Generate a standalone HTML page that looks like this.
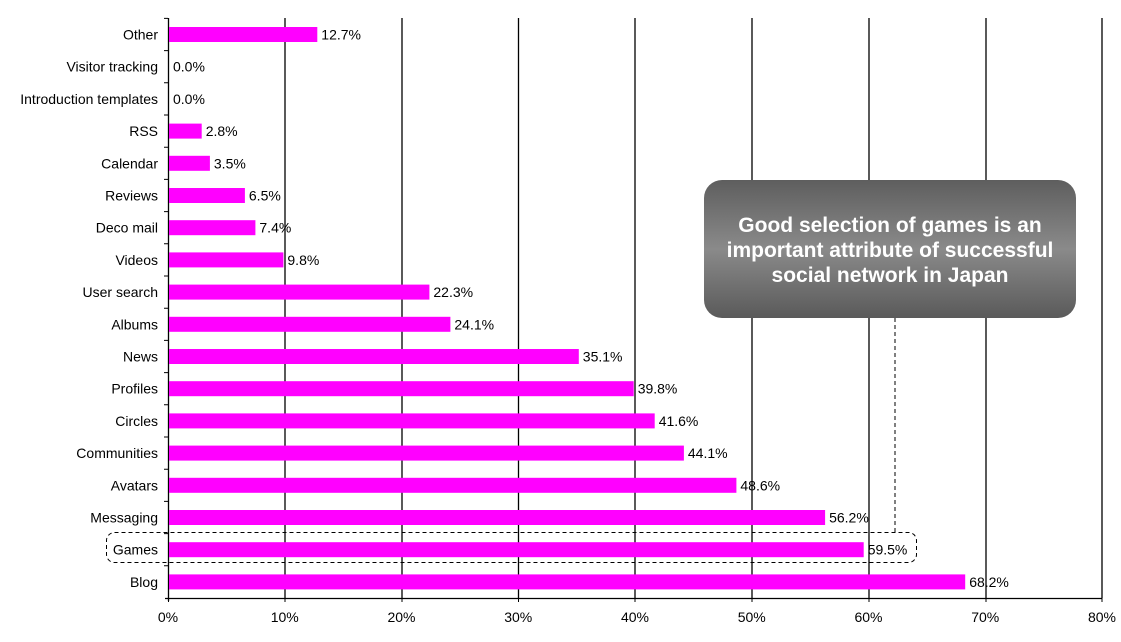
<!DOCTYPE html>
<html><head><meta charset="utf-8"><style>
html,body{margin:0;padding:0;background:#fff;width:1121px;height:642px;overflow:hidden}
svg text{font-family:"Liberation Sans",sans-serif;font-size:14px;fill:#000}
.l{text-anchor:end}
.c{text-anchor:middle}
</style></head><body>
<svg width="1121" height="642" xmlns="http://www.w3.org/2000/svg">
<defs>
<linearGradient id="g" x1="0" y1="0" x2="0" y2="1">
<stop offset="0" stop-color="#5e5e5e"/><stop offset="0.5" stop-color="#8a8a8a"/><stop offset="1" stop-color="#5a5a5a"/>
</linearGradient>
</defs>
<g stroke="#000" stroke-width="1.3">
<line x1="285" y1="18" x2="285" y2="598"/>
<line x1="402" y1="18" x2="402" y2="598"/>
<line x1="518.5" y1="18" x2="518.5" y2="598"/>
<line x1="635" y1="18" x2="635" y2="598"/>
<line x1="752" y1="18" x2="752" y2="598"/>
<line x1="869" y1="18" x2="869" y2="598"/>
<line x1="986" y1="18" x2="986" y2="598"/>
<line x1="1102" y1="18" x2="1102" y2="598"/>
<line x1="168.5" y1="18" x2="168.5" y2="601"/>
<line x1="165" y1="598.5" x2="1102" y2="598.5"/>
</g>
<path stroke="#000" fill="none" d="M164 18.4H168M164 50.6H168M164 82.8H168M164 115H168M164 147.2H168M164 179.4H168M164 211.6H168M164 243.8H168M164 276H168M164 308.2H168M164 340.4H168M164 372.6H168M164 404.8H168M164 437H168M164 469.2H168M164 501.4H168M164 533.6H168M164 565.8H168M168.5 598V602M285 598V602M402 598V602M518.5 598V602M635 598V602M752 598V602M869 598V602M986 598V602M1102 598V602"/>
<g fill="#ff00ff">
<rect x="169" y="27" width="148.3" height="15"/>
<rect x="169" y="123.6" width="32.7" height="15"/>
<rect x="169" y="155.8" width="40.9" height="15"/>
<rect x="169" y="188" width="75.9" height="15"/>
<rect x="169" y="220.2" width="86.4" height="15"/>
<rect x="169" y="252.4" width="114.4" height="15"/>
<rect x="169" y="284.6" width="260.4" height="15"/>
<rect x="169" y="316.8" width="281.4" height="15"/>
<rect x="169" y="349" width="409.8" height="15"/>
<rect x="169" y="381.2" width="464.7" height="15"/>
<rect x="169" y="413.4" width="485.7" height="15"/>
<rect x="169" y="445.6" width="514.9" height="15"/>
<rect x="169" y="477.8" width="567.4" height="15"/>
<rect x="169" y="510" width="656.1" height="15"/>
<rect x="169" y="542.2" width="694.7" height="15"/>
<rect x="169" y="574.4" width="796.2" height="15"/>
</g>
<text class="l" x="158" y="39.5">Other</text>
<text class="l" x="158" y="71.7">Visitor tracking</text>
<text class="l" x="158" y="103.9">Introduction templates</text>
<text class="l" x="158" y="136.1">RSS</text>
<text class="l" x="158" y="168.3">Calendar</text>
<text class="l" x="158" y="200.5">Reviews</text>
<text class="l" x="158" y="232.7">Deco mail</text>
<text class="l" x="158" y="264.9">Videos</text>
<text class="l" x="158" y="297.1">User search</text>
<text class="l" x="158" y="329.3">Albums</text>
<text class="l" x="158" y="361.5">News</text>
<text class="l" x="158" y="393.7">Profiles</text>
<text class="l" x="158" y="425.9">Circles</text>
<text class="l" x="158" y="458.1">Communities</text>
<text class="l" x="158" y="490.3">Avatars</text>
<text class="l" x="158" y="522.5">Messaging</text>
<text class="l" x="158" y="554.7">Games</text>
<text class="l" x="158" y="586.9">Blog</text>
<text x="321.3" y="39.5">12.7%</text>
<text x="173" y="71.7">0.0%</text>
<text x="173" y="103.9">0.0%</text>
<text x="205.7" y="136.1">2.8%</text>
<text x="213.9" y="168.3">3.5%</text>
<text x="248.9" y="200.5">6.5%</text>
<text x="259.4" y="232.7">7.4%</text>
<text x="287.4" y="264.9">9.8%</text>
<text x="433.4" y="297.1">22.3%</text>
<text x="454.4" y="329.3">24.1%</text>
<text x="582.8" y="361.5">35.1%</text>
<text x="637.7" y="393.7">39.8%</text>
<text x="658.7" y="425.9">41.6%</text>
<text x="687.9" y="458.1">44.1%</text>
<text x="740.4" y="490.3">48.6%</text>
<text x="829.1" y="522.5">56.2%</text>
<text x="867.7" y="554.7">59.5%</text>
<text x="969.2" y="586.9">68.2%</text>
<text class="c" x="168" y="622">0%</text>
<text class="c" x="284.75" y="622">10%</text>
<text class="c" x="401.5" y="622">20%</text>
<text class="c" x="518.25" y="622">30%</text>
<text class="c" x="635" y="622">40%</text>
<text class="c" x="751.75" y="622">50%</text>
<text class="c" x="868.5" y="622">60%</text>
<text class="c" x="985.25" y="622">70%</text>
<text class="c" x="1102" y="622">80%</text>
<rect x="704" y="180" width="372" height="138" rx="18" fill="url(#g)"/>
<text x="890" y="232" text-anchor="middle" style="font-size:21px;font-weight:bold;fill:#fff">Good selection of games is an</text>
<text x="890" y="257" text-anchor="middle" style="font-size:21px;font-weight:bold;fill:#fff">important attribute of successful</text>
<text x="890" y="282" text-anchor="middle" style="font-size:21px;font-weight:bold;fill:#fff">social network in Japan</text>
<line x1="895" y1="318" x2="895" y2="532" stroke="#000" stroke-dasharray="4,3"/>
<rect x="106.5" y="532.5" width="810" height="30" rx="8" fill="none" stroke="#000" stroke-dasharray="4,3"/>
</svg>
</body></html>
